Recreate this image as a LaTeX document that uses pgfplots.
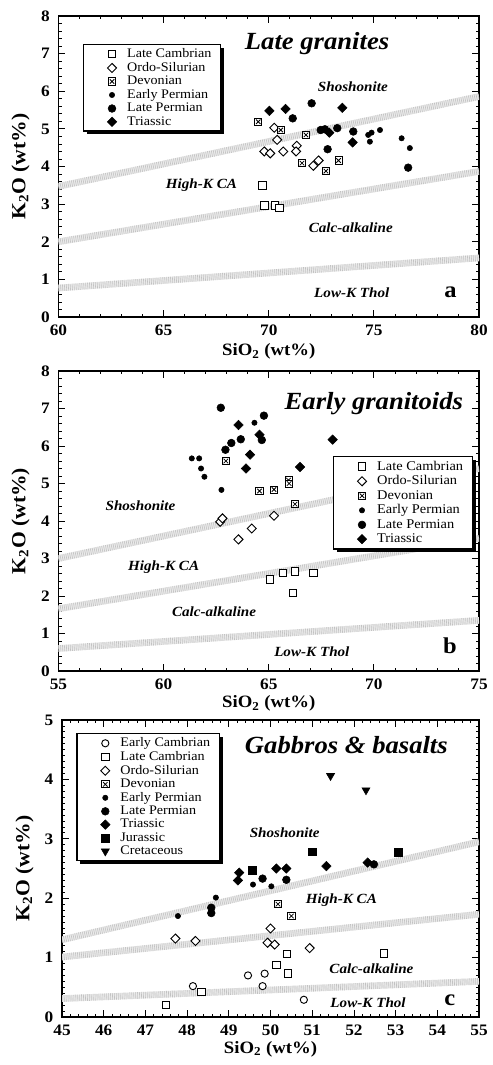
\documentclass[border=0pt]{standalone}
\usepackage{fontspec}
\setmainfont{Liberation Serif}[FakeStretch=1.08]
\usepackage{pgfplots}
\pgfplotsset{compat=1.18}
\usetikzlibrary{shadows}

\pgfdeclareplotmark{boxx}{%
 \pgfpathrectangle{\pgfqpoint{-\pgfplotmarksize}{-\pgfplotmarksize}}{\pgfqpoint{2\pgfplotmarksize}{2\pgfplotmarksize}}%
 \pgfusepathqfillstroke
 \pgfpathmoveto{\pgfqpoint{-.62\pgfplotmarksize}{-.62\pgfplotmarksize}}\pgfpathlineto{\pgfqpoint{.62\pgfplotmarksize}{.62\pgfplotmarksize}}%
 \pgfpathmoveto{\pgfqpoint{-.62\pgfplotmarksize}{.62\pgfplotmarksize}}\pgfpathlineto{\pgfqpoint{.62\pgfplotmarksize}{-.62\pgfplotmarksize}}%
 \pgfusepathqstroke}

\tikzset{
 reg/.style={font=\bfseries\itshape\fontsize{10.5}{12}\selectfont},
 ttl/.style={font=\bfseries\itshape\fontsize{18.5}{20}\selectfont},
 lett/.style={font=\bfseries\fontsize{17}{18}\selectfont},
}

\pgfplotsset{
 limg/.style={legend image code/.code={\path (0pt,0pt) (25pt,0pt); \draw[##1] plot coordinates {(16pt,0pt)};}},
 pLC/.style={only marks, black, line width=0.7pt, mark=square*, mark size=2.8pt, mark options={fill=white}, limg},
 pOS/.style={only marks, black, line width=0.7pt, mark=square*, mark size=2.4pt, mark options={rotate=45, fill=white}, limg},
 pDEV/.style={only marks, black, line width=0.6pt, mark=boxx, mark size=2.7pt, mark options={fill=white}, limg},
 pEP/.style={only marks, black, line width=0.4pt, mark=*, mark size=2.0pt, limg},
 pLP/.style={only marks, black, line width=0.4pt, mark=*, mark size=2.9pt, limg},
 pTRI/.style={only marks, black, line width=0.4pt, mark=square*, mark size=2.5pt, mark options={rotate=45}, limg},
 pJUR/.style={only marks, black, line width=0.4pt, mark=square*, mark size=2.9pt, limg},
 pCRE/.style={only marks, black, line width=0.4pt, mark=triangle*, mark size=3.5pt, mark options={rotate=180}, limg},
 pEC/.style={only marks, black, line width=0.7pt, mark=*, mark size=2.7pt, mark options={fill=white}, limg},
 band/.style={forget plot, no markers, line width=5pt, color=gray!16},
 bandd/.style={forget plot, no markers, line width=5pt, color=gray!48, dash pattern=on 0.45pt off 1.0pt},
 geo/.style={
  scale only axis, anchor=south west,
  axis line style={line width=0.9pt},
  every tick/.style={black, line width=0.6pt},
  major tick length=5pt, minor tick length=2.5pt,
  tick align=inside,
  /pgf/number format/assume math mode=true,
  ticklabel style={font=\bfseries\fontsize{12}{13}\selectfont},
  xticklabel style={yshift=-2.5pt},
  yticklabel style={xshift=-3pt},
  xlabel style={font=\bfseries\fontsize{13}{14}\selectfont, at={(axis description cs:0.5,-0.108)}, anchor=center},
  ylabel style={font=\bfseries\fontsize{15}{16}\selectfont, at={(axis description cs:-0.09,0.5)}, anchor=center},
  xlabel={SiO\textsubscript{2} (wt\%)},
  ylabel={K\textsubscript{2}O (wt\%)},
  legend cell align=left,
  legend style={draw=black, line width=1pt, fill=white,
    drop shadow={shadow xshift=2.3pt, shadow yshift=-2.3pt, fill=black, opacity=1},
    font=\fontsize{9.8}{10.5}\selectfont, inner xsep=5pt, inner ysep=2pt,
    nodes={inner ysep=1.0pt, inner xsep=2pt}},
 },
}

\begin{document}
\begin{tikzpicture}
\path (0pt,0pt) rectangle (367.5pt,-798.75pt);

% ---------------- Panel a ----------------
\begin{axis}[geo, at={(43.875pt,-237.75pt)}, width=315.375pt, height=225.75pt,
  xmin=60, xmax=80, ymin=0, ymax=8, xtick={60,65,70,75,80}, ytick={0,1,...,8},
  minor x tick num=4, minor y tick num=4,
  xlabel style={at={(axis description cs:0.5,-0.115)}},
  legend style={at={(0.058,0.907)}, anchor=north west}]
\addplot[band] coordinates {(60,3.47) (80,5.86)};
\addplot[bandd] coordinates {(60,3.47) (80,5.86)};
\addplot[band] coordinates {(60,2.0) (80,3.87)};
\addplot[bandd] coordinates {(60,2.0) (80,3.87)};
\addplot[band] coordinates {(60,0.77) (80,1.57)};
\addplot[bandd] coordinates {(60,0.77) (80,1.57)};
\addplot[pLC] coordinates {(69.7,3.5) (69.8,2.97) (70.3,2.97) (70.5,2.9)};
\addlegendentry{Late Cambrian}
\addplot[pOS] coordinates {(70.26,5.03) (70.40,4.71) (69.79,4.40) (70.07,4.35) (70.69,4.40) (71.33,4.55) (71.30,4.40) (72.12,4.02) (72.37,4.16)};
\addlegendentry{Ordo-Silurian}
\addplot[pDEV] coordinates {(69.50,5.19) (70.57,4.97) (71.77,4.84) (71.58,4.09) (72.72,3.88) (73.32,4.16)};
\addlegendentry{Devonian}
\addplot[pEP] coordinates {(74.73,4.84) (74.89,4.90) (74.81,4.66) (76.32,4.75) (76.71,4.49) (75.29,4.97)};
\addlegendentry{Early Permian}
\addplot[pLP] coordinates {(72.04,5.68) (71.14,5.28) (72.47,4.97) (72.67,4.99) (73.26,5.02) (74.02,4.93) (72.80,4.46) (76.63,3.97)};
\addlegendentry{Late Permian}
\addplot[pTRI] coordinates {(70.03,5.48) (70.80,5.53) (73.50,5.56) (72.88,4.90) (73.99,4.64)};
\addlegendentry{Triassic}
\node[ttl] at (axis cs:72.3,7.27) {Late granites};
\node[reg] at (axis cs:74.0,6.12) {Shoshonite};
\node[reg] at (axis cs:66.8,3.51) {High-K CA};
\node[reg] at (axis cs:73.9,2.36) {Calc-alkaline};
\node[reg] at (axis cs:73.95,0.65) {Low-K Thol};
\node[lett] at (axis cs:78.65,0.66) {a};
\end{axis}

% ---------------- Panel b ----------------
\begin{axis}[geo, at={(43.875pt,-503.25pt)}, width=315.375pt, height=225pt,
  xmin=55, xmax=75, ymin=0, ymax=8, xtick={55,60,65,70,75}, ytick={0,1,...,8},
  minor x tick num=4, minor y tick num=4,
  legend style={at={(0.986,0.717)}, anchor=north east, font=\fontsize{10}{11}\selectfont, nodes={inner ysep=1.3pt}}]
\addplot[band] coordinates {(55,3.0) (75,5.4)};
\addplot[bandd] coordinates {(55,3.0) (75,5.4)};
\addplot[band] coordinates {(55,1.66) (75,3.54)};
\addplot[bandd] coordinates {(55,1.66) (75,3.54)};
\addplot[band] coordinates {(55,0.6) (75,1.35)};
\addplot[bandd] coordinates {(55,0.6) (75,1.35)};
\addplot[pLC] coordinates {(65.06,2.44) (65.67,2.62) (66.25,2.65) (67.12,2.62) (66.14,2.08)};
\addlegendentry{Late Cambrian}
\addplot[pOS] coordinates {(62.69,3.98) (62.80,4.07) (63.56,3.51) (64.19,3.80) (65.25,4.14)};
\addlegendentry{Ordo-Silurian}
\addplot[pDEV] coordinates {(62.96,5.60) (64.56,4.80) (65.25,4.84) (65.94,5.09) (65.97,5.00) (66.25,4.45)};
\addlegendentry{Devonian}
\addplot[pEP] coordinates {(61.34,5.67) (61.69,5.67) (61.78,5.40) (61.94,5.18) (62.75,4.83) (64.32,6.62)};
\addlegendentry{Early Permian}
\addplot[pLP] coordinates {(62.72,7.02) (62.94,5.90) (63.22,6.08) (63.67,6.18) (64.77,6.81) (64.67,6.16)};
\addlegendentry{Late Permian}
\addplot[pTRI] coordinates {(63.56,6.56) (64.56,6.30) (64.11,5.77) (63.92,5.40) (66.49,5.44) (68.04,6.17)};
\addlegendentry{Triassic}
\node[ttl] at (axis cs:70.0,7.13) {Early granitoids};
\node[reg] at (axis cs:58.9,4.42) {Shoshonite};
\node[reg] at (axis cs:60.0,2.78) {High-K CA};
\node[reg] at (axis cs:62.4,1.57) {Calc-alkaline};
\node[reg] at (axis cs:67.05,0.52) {Low-K Thol};
\node[lett] at (axis cs:73.62,0.68) {b};
\end{axis}

% ---------------- Panel c ----------------
\begin{axis}[geo, at={(46.5pt,-762.75pt)}, width=312.75pt, height=222.75pt,
  xmin=45, xmax=55, ymin=0, ymax=5, xtick={45,46,...,55}, ytick={0,1,...,5},
  minor x tick num=4, minor y tick num=9,
  legend style={at={(0.034,0.956)}, anchor=north west}]
\addplot[band] coordinates {(45,1.30) (55,2.95)};
\addplot[bandd] coordinates {(45,1.30) (55,2.95)};
\addplot[band] coordinates {(45,1.01) (55,1.73)};
\addplot[bandd] coordinates {(45,1.01) (55,1.73)};
\addplot[band] coordinates {(45,0.31) (55,0.60)};
\addplot[bandd] coordinates {(45,0.31) (55,0.60)};
\addplot[pEC] coordinates {(48.14,0.52) (49.46,0.70) (49.86,0.73) (49.81,0.52) (50.80,0.29)};
\addlegendentry{Early Cambrian}
\addplot[pLC] coordinates {(47.49,0.20) (48.34,0.42) (50.14,0.88) (50.40,1.06) (50.42,0.73) (52.72,1.07)};
\addlegendentry{Late Cambrian}
\addplot[pOS] coordinates {(47.72,1.32) (48.20,1.28) (50.00,1.49) (49.93,1.25) (50.10,1.22) (50.94,1.16)};
\addlegendentry{Ordo-Silurian}
\addplot[pDEV] coordinates {(50.18,1.90) (50.50,1.70)};
\addlegendentry{Devonian}
\addplot[pEP] coordinates {(47.78,1.70) (48.69,2.01) (49.58,2.23) (50.02,2.20)};
\addlegendentry{Early Permian}
\addplot[pLP] coordinates {(48.58,1.75) (48.58,1.84) (49.81,2.33) (50.38,2.31) (52.48,2.57)};
\addlegendentry{Late Permian}
\addplot[pTRI] coordinates {(49.25,2.43) (49.22,2.30) (50.14,2.50) (50.38,2.50) (51.34,2.54) (52.33,2.60)};
\addlegendentry{Triassic}
\addplot[pJUR] coordinates {(49.56,2.47) (51.00,2.78) (53.06,2.77)};
\addlegendentry{Jurassic}
\addplot[pCRE] coordinates {(51.44,4.06) (52.29,3.82)};
\addlegendentry{Cretaceous}
\node[ttl] at (axis cs:51.82,4.58) {Gabbros \& basalts};
\node[reg] at (axis cs:50.34,3.10) {Shoshonite};
\node[reg] at (axis cs:51.70,1.96) {High-K CA};
\node[reg] at (axis cs:52.42,0.81) {Calc-alkaline};
\node[reg] at (axis cs:52.34,0.24) {Low-K Thol};
\node[lett] at (axis cs:54.30,0.28) {c};
\end{axis}
\end{tikzpicture}
\end{document}
